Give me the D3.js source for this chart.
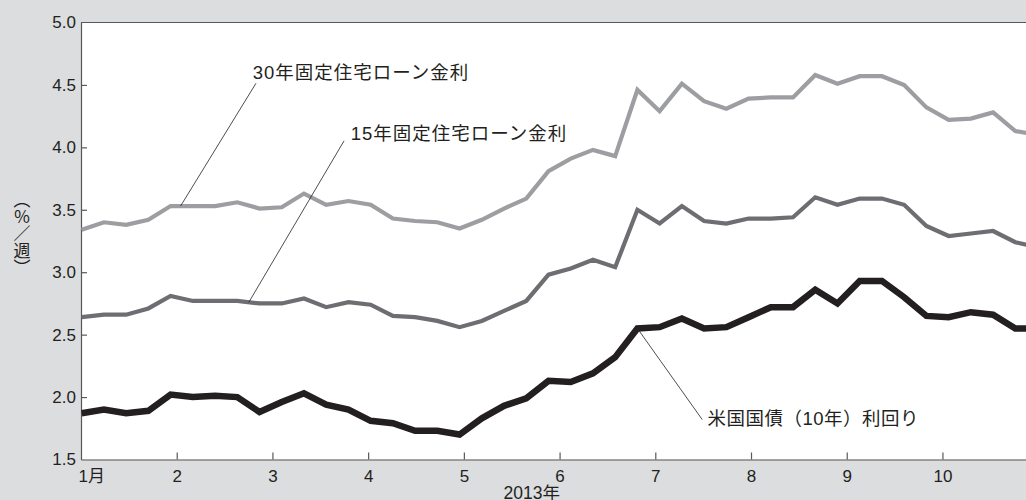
<!DOCTYPE html>
<html>
<head>
<meta charset="utf-8">
<script src="https://cdn.jsdelivr.net/npm/d3@7"></script>
<style>
  html, body { margin: 0; padding: 0; background: #dcdddf; }
  svg { display: block; }
</style>
</head>
<body>
<svg id="chart" width="1026" height="500"></svg>
<script>
// Weekly survey dates (Thursdays, 2013)
const weeks = [
  "1/3","1/10","1/17","1/24","1/31","2/7","2/14","2/21","2/28","3/7","3/14",
  "3/21","3/28","4/4","4/11","4/18","4/25","5/2","5/9","5/16","5/23","5/30",
  "6/6","6/13","6/20","6/27","7/3","7/11","7/18","7/25","8/1","8/8","8/15",
  "8/22","8/29","9/5","9/12","9/19","9/26","10/3","10/10","10/17","10/24","10/31"
];

// 30-year fixed mortgage rate (%)
const rate30 = [
  3.34, 3.40, 3.38, 3.42, 3.53, 3.53, 3.53, 3.56, 3.51, 3.52, 3.63,
  3.54, 3.57, 3.54, 3.43, 3.41, 3.40, 3.35, 3.42, 3.51, 3.59, 3.81,
  3.91, 3.98, 3.93, 4.46, 4.29, 4.51, 4.37, 4.31, 4.39, 4.40, 4.40,
  4.58, 4.51, 4.57, 4.57, 4.50, 4.32, 4.22, 4.23, 4.28, 4.13, 4.10
];

// 15-year fixed mortgage rate (%)
const rate15 = [
  2.64, 2.66, 2.66, 2.71, 2.81, 2.77, 2.77, 2.77, 2.75, 2.75, 2.79,
  2.72, 2.76, 2.74, 2.65, 2.64, 2.61, 2.56, 2.61, 2.69, 2.77, 2.98,
  3.03, 3.10, 3.04, 3.50, 3.39, 3.53, 3.41, 3.39, 3.43, 3.43, 3.44,
  3.60, 3.54, 3.59, 3.59, 3.54, 3.37, 3.29, 3.31, 3.33, 3.24, 3.20
];

// 10-year US Treasury yield (%)
const treasury10 = [
  1.87, 1.90, 1.87, 1.89, 2.02, 2.00, 2.01, 2.00, 1.88, 1.96, 2.03,
  1.94, 1.90, 1.81, 1.79, 1.73, 1.73, 1.70, 1.83, 1.93, 1.99, 2.13,
  2.12, 2.19, 2.32, 2.55, 2.56, 2.63, 2.55, 2.56, 2.64, 2.72, 2.72,
  2.86, 2.75, 2.93, 2.93, 2.80, 2.65, 2.64, 2.68, 2.66, 2.55, 2.55
];

const monthTicks = [1, 2, 3, 4, 5, 6, 7, 8, 9, 10];
const monthLabels = ["1月", "2", "3", "4", "5", "6", "7", "8", "9", "10"];
const yTicks = [1.5, 2.0, 2.5, 3.0, 3.5, 4.0, 4.5, 5.0];

const seriesNames = ["30年固定住宅ローン金利", "15年固定住宅ローン金利", "米国国債（10年）利回り"];

const W = 1026, H = 500;
const margin = { left: 81, top: 22.5, right: 0, bottom: 40.5 };

// Horizontal scale in months; weeks sit at a fixed fraction of a month
const WEEK = 7 / 30.14;
const WEEK0 = 1.007;
const x = d3.scaleLinear().domain([1, 10.873]).range([margin.left, W - margin.right]);
const y = d3.scaleLinear().domain([1.5, 5.0]).range([H - margin.bottom, margin.top]);
const weekX = i => x(WEEK0 + i * WEEK);

const svg = d3.select("#chart");

svg.append("defs").append("clipPath").attr("id", "plot-clip")
  .append("rect")
  .attr("x", margin.left).attr("y", margin.top)
  .attr("width", W - margin.left - margin.right)
  .attr("height", H - margin.top - margin.bottom);

// Plot background
svg.append("rect")
  .attr("x", margin.left).attr("y", margin.top)
  .attr("width", W - margin.left - margin.right)
  .attr("height", H - margin.top - margin.bottom)
  .attr("fill", "#ffffff");

const sans = "'Liberation Sans', Arial, 'Noto Sans CJK JP', sans-serif";
const cjk = "'Noto Sans CJK JP', sans-serif";
const axisColor = "#58585a";
const textColor = "#231f20";

// Y axis (ticks point inward)
const yAxis = d3.axisLeft(y).tickValues(yTicks).tickFormat(d3.format(".1f")).tickSize(0).tickPadding(5);
const gy = svg.append("g").attr("transform", `translate(${margin.left},0)`).call(yAxis);
gy.select(".domain").attr("stroke", axisColor).attr("stroke-width", 1.2);
gy.selectAll(".tick text").attr("font-family", sans).attr("font-size", 17).attr("fill", textColor);
gy.selectAll(".tick").filter(d => d > 1.5 && d < 5.0).append("line")
  .attr("x1", 0).attr("x2", 6).attr("stroke", axisColor).attr("stroke-width", 1.2);

// Top frame line
svg.append("line")
  .attr("x1", margin.left).attr("x2", W)
  .attr("y1", y(5.0)).attr("y2", y(5.0))
  .attr("stroke", axisColor).attr("stroke-width", 1.2);

// X axis (months, ticks point upward)
const xAxis = d3.axisBottom(x).tickValues(monthTicks)
  .tickFormat((d, i) => monthLabels[i]).tickSize(0).tickPadding(6);
const gx = svg.append("g").attr("transform", `translate(0,${y(1.5)})`).call(xAxis);
gx.select(".domain").attr("stroke", axisColor).attr("stroke-width", 1.2);
gx.selectAll(".tick text").attr("font-family", sans).attr("font-size", 17).attr("fill", textColor)
  .attr("dy", "0.95em");
gx.selectAll(".tick").filter(d => d === 1).select("text").attr("text-anchor", "start").attr("dx", -3);
gx.selectAll(".tick").filter(d => d > 1).append("line")
  .attr("y1", 0).attr("y2", -7).attr("stroke", axisColor).attr("stroke-width", 1.2);

// X axis title
svg.append("text")
  .attr("x", x(5.71)).attr("y", 499)
  .attr("text-anchor", "middle")
  .attr("font-family", sans).attr("font-size", 17.5).attr("fill", textColor)
  .text("2013年");

// Y axis unit, set vertically
svg.append("text")
  .attr("x", 22).attr("y", 191)
  .attr("font-family", cjk).attr("font-size", 17).attr("fill", textColor)
  .style("writing-mode", "vertical-rl")
  .style("text-orientation", "upright")
  .text("（％／週）");

// Series lines
const line = d3.line().x((d, i) => weekX(i)).y(d => y(d)).curve(d3.curveLinear);
const plot = svg.append("g").attr("clip-path", "url(#plot-clip)");
const series = [
  { values: rate30, color: "#9d9ea1", width: 4.2 },
  { values: rate15, color: "#6d6e71", width: 4.2 },
  { values: treasury10, color: "#231f20", width: 6.5 }
];
plot.selectAll("path.series").data(series).join("path")
  .attr("class", "series")
  .attr("d", d => line(d.values))
  .attr("fill", "none")
  .attr("stroke", d => d.color)
  .attr("stroke-width", d => d.width)
  .attr("stroke-linejoin", "miter")
  .attr("stroke-miterlimit", 4);

// Labels with leader lines (positions in data units: months / percent)
const labels = [
  { text: seriesNames[0], tx: 2.794, ty: 4.55, lx1: 2.828, ly1: 4.513, week: 4.45, series: rate30, ls: 1.0 },
  { text: seriesNames[1], tx: 3.818, ty: 4.057, lx1: 3.748, ly1: 4.052, week: 7.52, series: rate15, ls: 1.0 },
  { text: seriesNames[2], tx: 7.545, ty: 1.774, lx1: 7.49, ly1: 1.82, week: 25, series: treasury10, ls: 0.5 }
];
const interp = (arr, w) => {
  const i = Math.floor(w), f = w - i;
  return i + 1 < arr.length ? arr[i] * (1 - f) + arr[i + 1] * f : arr[i];
};
const ann = svg.append("g");
ann.selectAll("line").data(labels).join("line")
  .attr("x1", d => x(d.lx1)).attr("y1", d => y(d.ly1))
  .attr("x2", d => weekX(d.week)).attr("y2", d => y(interp(d.series, d.week)))
  .attr("stroke", textColor).attr("stroke-width", 0.8);
ann.selectAll("text").data(labels).join("text")
  .attr("x", d => x(d.tx)).attr("y", d => y(d.ty))
  .attr("font-family", sans).attr("font-size", 18.5).attr("fill", textColor)
  .attr("letter-spacing", d => d.ls)
  .text(d => d.text);
</script>
</body>
</html>
